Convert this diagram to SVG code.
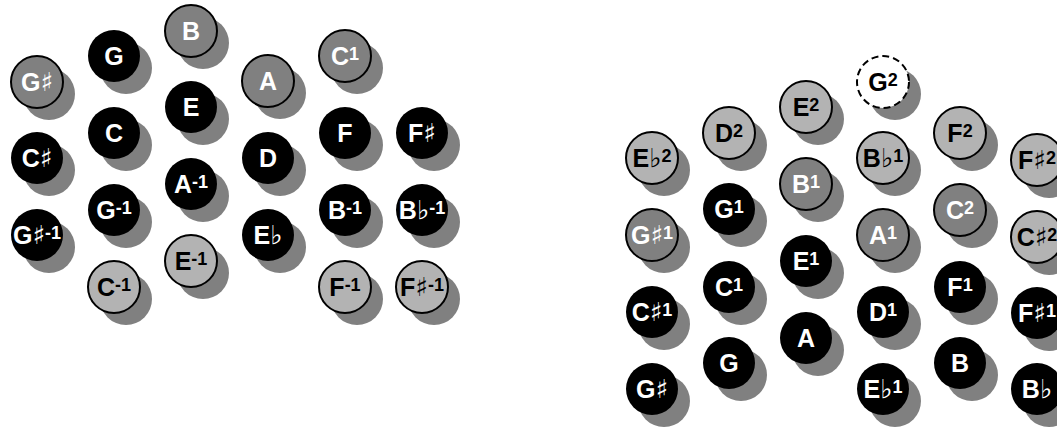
<svg xmlns="http://www.w3.org/2000/svg" width="1057" height="428" viewBox="0 0 1057 428">
<style>
.sh{fill:#808080}
.blk{fill:#000}
.dk{fill:#808080;stroke:#000;stroke-width:2}
.lt{fill:#b3b3b3;stroke:#000;stroke-width:2}
.wh{fill:#fff;stroke:#000;stroke-width:2;stroke-dasharray:7 4}
.t{font-family:"Liberation Sans",Arial,sans-serif;font-weight:bold;font-size:25px;text-anchor:middle}
.tw{fill:#fff}
.tb{fill:#000}
.acc{font-family:"DejaVu Sans",sans-serif;font-weight:normal;font-size:26px}
.sup{font-size:18px}
</style>
<rect width="1057" height="428" fill="#fff"/>
<g id="left">
<g id="L-Gs"><circle class="sh" cx="49" cy="94" r="26"/><circle class="dk" cx="37" cy="82" r="26"/><text class="t tw" x="37" y="91">G<tspan class="acc">♯︎</tspan></text></g>
<g id="L-Cs"><circle class="sh" cx="49" cy="170" r="26"/><circle class="blk" cx="37" cy="158" r="26"/><text class="t tw" x="37" y="167">C<tspan class="acc">♯︎</tspan></text></g>
<g id="L-Gs-1"><circle class="sh" cx="49" cy="247" r="26"/><circle class="blk" cx="37" cy="235" r="26"/><text class="t tw" x="37" y="244">G<tspan class="acc">♯︎</tspan><tspan class="sup" dy="-5">-1</tspan></text></g>
<g id="L-G"><circle class="sh" cx="126" cy="68" r="26"/><circle class="blk" cx="114" cy="56" r="26"/><text class="t tw" x="114" y="65">G</text></g>
<g id="L-C"><circle class="sh" cx="126" cy="145" r="26"/><circle class="blk" cx="114" cy="133" r="26"/><text class="t tw" x="114" y="142">C</text></g>
<g id="L-G-1"><circle class="sh" cx="126" cy="222" r="26"/><circle class="blk" cx="114" cy="210" r="26"/><text class="t tw" x="114" y="219">G<tspan class="sup" dy="-5">-1</tspan></text></g>
<g id="L-C-1"><circle class="sh" cx="126" cy="299" r="26"/><circle class="lt" cx="114" cy="287" r="26"/><text class="t tb" x="114" y="296">C<tspan class="sup" dy="-5">-1</tspan></text></g>
<g id="L-B"><circle class="sh" cx="203" cy="43" r="26"/><circle class="dk" cx="191" cy="31" r="26"/><text class="t tw" x="191" y="40">B</text></g>
<g id="L-E"><circle class="sh" cx="203" cy="119" r="26"/><circle class="blk" cx="191" cy="107" r="26"/><text class="t tw" x="191" y="116">E</text></g>
<g id="L-A-1"><circle class="sh" cx="203" cy="196" r="26"/><circle class="blk" cx="191" cy="184" r="26"/><text class="t tw" x="191" y="193">A<tspan class="sup" dy="-5">-1</tspan></text></g>
<g id="L-E-1"><circle class="sh" cx="203" cy="273" r="26"/><circle class="lt" cx="191" cy="261" r="26"/><text class="t tb" x="191" y="270">E<tspan class="sup" dy="-5">-1</tspan></text></g>
<g id="L-A"><circle class="sh" cx="280" cy="93" r="26"/><circle class="dk" cx="268" cy="81" r="26"/><text class="t tw" x="268" y="90">A</text></g>
<g id="L-D"><circle class="sh" cx="280" cy="170" r="26"/><circle class="blk" cx="268" cy="158" r="26"/><text class="t tw" x="268" y="167">D</text></g>
<g id="L-Eb"><circle class="sh" cx="280" cy="247" r="26"/><circle class="blk" cx="268" cy="235" r="26"/><text class="t tw" x="268" y="244">E<tspan class="acc">♭︎</tspan></text></g>
<g id="L-C1"><circle class="sh" cx="357" cy="68" r="26"/><circle class="dk" cx="345" cy="56" r="26"/><text class="t tw" x="345" y="65">C<tspan class="sup" dy="-5">1</tspan></text></g>
<g id="L-F"><circle class="sh" cx="357" cy="145" r="26"/><circle class="blk" cx="345" cy="133" r="26"/><text class="t tw" x="345" y="142">F</text></g>
<g id="L-B-1"><circle class="sh" cx="357" cy="222" r="26"/><circle class="blk" cx="345" cy="210" r="26"/><text class="t tw" x="345" y="219">B<tspan class="sup" dy="-5">-1</tspan></text></g>
<g id="L-F-1"><circle class="sh" cx="357" cy="299" r="26"/><circle class="lt" cx="345" cy="287" r="26"/><text class="t tb" x="345" y="296">F<tspan class="sup" dy="-5">-1</tspan></text></g>
<g id="L-Fs"><circle class="sh" cx="434" cy="145" r="26"/><circle class="blk" cx="422" cy="133" r="26"/><text class="t tw" x="422" y="142">F<tspan class="acc">♯︎</tspan></text></g>
<g id="L-Bb-1"><circle class="sh" cx="434" cy="222" r="26"/><circle class="blk" cx="422" cy="210" r="26"/><text class="t tw" x="422" y="219">B<tspan class="acc">♭︎</tspan><tspan class="sup" dy="-5">-1</tspan></text></g>
<g id="L-Fs-1"><circle class="sh" cx="434" cy="299" r="26"/><circle class="lt" cx="422" cy="287" r="26"/><text class="t tb" x="422" y="296">F<tspan class="acc">♯︎</tspan><tspan class="sup" dy="-5">-1</tspan></text></g>
</g>
<g id="right">
<g id="R-Eb2"><circle class="sh" cx="664" cy="170" r="26"/><circle class="lt" cx="652" cy="158" r="26"/><text class="t tb" x="652" y="167">E<tspan class="acc">♭︎</tspan><tspan class="sup" dy="-5">2</tspan></text></g>
<g id="R-Gs1"><circle class="sh" cx="664" cy="247" r="26"/><circle class="dk" cx="652" cy="235" r="26"/><text class="t tw" x="652" y="244">G<tspan class="acc">♯︎</tspan><tspan class="sup" dy="-5">1</tspan></text></g>
<g id="R-Cs1"><circle class="sh" cx="664" cy="324" r="26"/><circle class="blk" cx="652" cy="312" r="26"/><text class="t tw" x="652" y="321">C<tspan class="acc">♯︎</tspan><tspan class="sup" dy="-5">1</tspan></text></g>
<g id="R-Gs"><circle class="sh" cx="664" cy="401" r="26"/><circle class="blk" cx="652" cy="389" r="26"/><text class="t tw" x="652" y="398">G<tspan class="acc">♯︎</tspan></text></g>
<g id="R-D2"><circle class="sh" cx="741" cy="145" r="26"/><circle class="lt" cx="729" cy="133" r="26"/><text class="t tb" x="729" y="142">D<tspan class="sup" dy="-5">2</tspan></text></g>
<g id="R-G1"><circle class="sh" cx="741" cy="221" r="26"/><circle class="blk" cx="729" cy="209" r="26"/><text class="t tw" x="729" y="218">G<tspan class="sup" dy="-5">1</tspan></text></g>
<g id="R-C1"><circle class="sh" cx="741" cy="299" r="26"/><circle class="blk" cx="729" cy="287" r="26"/><text class="t tw" x="729" y="296">C<tspan class="sup" dy="-5">1</tspan></text></g>
<g id="R-G"><circle class="sh" cx="741" cy="375" r="26"/><circle class="blk" cx="729" cy="363" r="26"/><text class="t tw" x="729" y="372">G</text></g>
<g id="R-E2"><circle class="sh" cx="818" cy="119" r="26"/><circle class="lt" cx="806" cy="107" r="26"/><text class="t tb" x="806" y="116">E<tspan class="sup" dy="-5">2</tspan></text></g>
<g id="R-B1"><circle class="sh" cx="818" cy="196" r="26"/><circle class="dk" cx="806" cy="184" r="26"/><text class="t tw" x="806" y="193">B<tspan class="sup" dy="-5">1</tspan></text></g>
<g id="R-E1"><circle class="sh" cx="818" cy="273" r="26"/><circle class="blk" cx="806" cy="261" r="26"/><text class="t tw" x="806" y="270">E<tspan class="sup" dy="-5">1</tspan></text></g>
<g id="R-A"><circle class="sh" cx="818" cy="350" r="26"/><circle class="blk" cx="806" cy="338" r="26"/><text class="t tw" x="806" y="347">A</text></g>
<g id="R-G2"><circle class="sh" cx="895" cy="94" r="26"/><circle class="wh" cx="883" cy="82" r="26"/><text class="t tb" x="883" y="91">G<tspan class="sup" dy="-5">2</tspan></text></g>
<g id="R-Bb1"><circle class="sh" cx="895" cy="170" r="26"/><circle class="lt" cx="883" cy="158" r="26"/><text class="t tb" x="883" y="167">B<tspan class="acc">♭︎</tspan><tspan class="sup" dy="-5">1</tspan></text></g>
<g id="R-A1"><circle class="sh" cx="895" cy="247" r="26"/><circle class="dk" cx="883" cy="235" r="26"/><text class="t tw" x="883" y="244">A<tspan class="sup" dy="-5">1</tspan></text></g>
<g id="R-D1"><circle class="sh" cx="895" cy="324" r="26"/><circle class="blk" cx="883" cy="312" r="26"/><text class="t tw" x="883" y="321">D<tspan class="sup" dy="-5">1</tspan></text></g>
<g id="R-Eb1"><circle class="sh" cx="895" cy="401" r="26"/><circle class="blk" cx="883" cy="389" r="26"/><text class="t tw" x="883" y="398">E<tspan class="acc">♭︎</tspan><tspan class="sup" dy="-5">1</tspan></text></g>
<g id="R-F2"><circle class="sh" cx="972" cy="145" r="26"/><circle class="lt" cx="960" cy="133" r="26"/><text class="t tb" x="960" y="142">F<tspan class="sup" dy="-5">2</tspan></text></g>
<g id="R-C2"><circle class="sh" cx="972" cy="222" r="26"/><circle class="dk" cx="960" cy="210" r="26"/><text class="t tw" x="960" y="219">C<tspan class="sup" dy="-5">2</tspan></text></g>
<g id="R-F1"><circle class="sh" cx="972" cy="299" r="26"/><circle class="blk" cx="960" cy="287" r="26"/><text class="t tw" x="960" y="296">F<tspan class="sup" dy="-5">1</tspan></text></g>
<g id="R-B"><circle class="sh" cx="972" cy="375" r="26"/><circle class="blk" cx="960" cy="363" r="26"/><text class="t tw" x="960" y="372">B</text></g>
<g id="R-Fs2"><circle class="sh" cx="1049" cy="172" r="26"/><circle class="lt" cx="1037" cy="160" r="26"/><text class="t tb" x="1037" y="169">F<tspan class="acc">♯︎</tspan><tspan class="sup" dy="-5">2</tspan></text></g>
<g id="R-Cs2"><circle class="sh" cx="1049" cy="249" r="26"/><circle class="lt" cx="1037" cy="237" r="26"/><text class="t tb" x="1037" y="246">C<tspan class="acc">♯︎</tspan><tspan class="sup" dy="-5">2</tspan></text></g>
<g id="R-Fs1"><circle class="sh" cx="1049" cy="325" r="26"/><circle class="blk" cx="1037" cy="313" r="26"/><text class="t tw" x="1037" y="322">F<tspan class="acc">♯︎</tspan><tspan class="sup" dy="-5">1</tspan></text></g>
<g id="R-Bb"><circle class="sh" cx="1049" cy="401" r="26"/><circle class="blk" cx="1037" cy="389" r="26"/><text class="t tw" x="1037" y="398">B<tspan class="acc">♭︎</tspan></text></g>
</g>
</svg>
